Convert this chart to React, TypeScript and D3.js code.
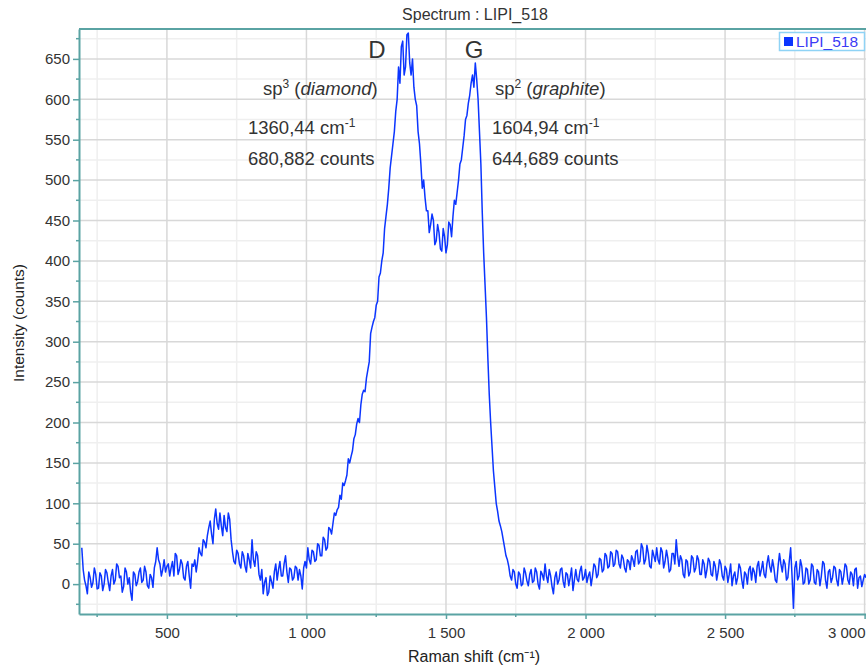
import React from 'react';
import * as d3 from 'd3';

// Raman spectrum LIPI_518, every 5 cm-1 starting at 195 cm-1
const shiftStart = 195;
const shiftStep = 5;
const intensity = [
  45, 18, 5, -2, -12, 15, 8, -4, 2, 20, 12, -6, -5, 14, 10, -8, 0, 18, 14, 2,
  -8, 10, 18, 0, 5, 25, 22, 8, 10, -10, -3, 20, 15, 0, 8, -10, -20, 15, 12, -2,
  3, 15, 20, 2, 5, 22, 15, -2, -5, 12, 8, -4, 20, 28, 45, 30, 25, 10, 18, 30,
  15, 22, 25, 10, 20, 28, 10, 38, 35, 12, 18, 30, 25, 8, 5, 22, 28, 10, -5, 25,
  22, 30, 15, 28, 45, 38, 35, 55, 52, 45, 60, 70, 78, 62, 50, 80, 93, 75, 68, 88,
  72, 60, 85, 70, 65, 88, 80, 55, 40, 28, 25, 42, 38, 25, 20, 40, 35, 22, 15, 38,
  30, 20, 55, 30, 22, 40, 35, 12, 5, 18, -12, 2, 8, -14, -10, 10, 3, -5, 15, 25,
  5, 18, 28, 10, 10, 25, 35, 15, 2, 20, 18, 5, 8, 22, 20, 5, 18, 10, -6, 20,
  28, 20, 45, 30, 25, 42, 40, 28, 30, 50, 48, 35, 35, 58, 55, 42, 45, 70, 68, 62,
  75, 88, 85, 92, 95, 110, 105, 125, 122, 128, 135, 155, 150, 158, 165, 180, 185, 198, 205, 200,
  222, 235, 240, 238, 255, 265, 275, 310, 318, 325, 330, 345, 350, 380, 385, 400, 410, 440, 455, 470,
  490, 515, 530, 545, 560, 585, 600, 640, 620, 665, 672, 630, 640, 680, 682, 645, 630, 650, 615, 600,
  592, 560, 545, 520, 490, 500, 478, 462, 462, 435, 445, 458, 450, 420, 425, 445, 435, 415, 412, 440,
  430, 410, 420, 448, 445, 430, 455, 475, 470, 485, 500, 520, 525, 540, 555, 575, 580, 595, 605, 620,
  630, 615, 645, 625, 600, 560, 520, 460, 410, 370, 330, 280, 235, 200, 170, 140, 120, 100, 90, 78,
  72, 65, 55, 45, 35, 30, 22, 10, 5, 18, 15, 0, -5, 15, 12, -2, 0, 20, 14, 4,
  -2, 12, 18, 2, 4, 20, 15, 0, -6, 16, 12, 5, 25, 10, 2, 18, 10, -3, -12, 8,
  15, 0, 5, 18, 20, 3, -4, 14, 12, -2, 8, 20, -8, 5, 18, 6, 3, 16, 22, 5,
  8, 18, 2, 10, 15, -2, 10, 25, 22, 8, 12, 32, 30, 15, 18, 38, 35, 20, 22, 40,
  38, 22, 25, 42, 40, 25, 20, 36, 32, 20, 15, 30, 28, 18, 35, 30, 22, 40, 42, 25,
  28, 50, 45, 25, 30, 48, 38, 22, 20, 42, 35, 28, 45, 30, 25, 45, 40, 20, 28, 42,
  32, 15, 18, 38, 38, 25, 55, 35, 22, 35, 30, 12, 8, 30, 28, 10, 15, 35, 32, 15,
  20, 35, 30, 12, 12, 30, 25, 8, 18, 32, 28, 12, 10, 28, 22, 5, 15, 30, 25, 10,
  5, 22, 18, 2, 12, 25, -2, 10, 15, 0, 8, 25, 20, 5, -5, 15, 12, 0, 18, 22,
  5, 20, 15, 2, 22, 28, 10, 18, 28, 12, 8, 25, 35, 22, 15, 30, 20, 5, 2, 22,
  38, 25, 15, 30, 25, 5, 8, 28, 45, 10, -30, 20, 28, 5, 10, 30, 22, 0, 2, 20,
  18, 0, 5, 25, 22, 2, 0, 18, 15, -2, 10, 28, 25, 5, -5, 15, 18, 2, 8, 22,
  20, 5, -2, 18, 15, 0, 10, 25, 22, 5, 0, 15, 12, -2, 18, 20, -5, 8, 10, -3,
  5, 12, 8,
];

const xTicks = [500, 1000, 1500, 2000, 2500, 3000];
const xMinorTicks = [250, 750, 1250, 1750, 2250, 2750];
const yTicks = [0, 50, 100, 150, 200, 250, 300, 350, 400, 450, 500, 550, 600, 650];
const yMinorTicks = [-25, 25, 75, 125, 175, 225, 275, 325, 375, 425, 475, 525, 575, 625, 675];

const title = 'Spectrum : LIPI_518';
const seriesName = 'LIPI_518';
const xLabel = 'Raman shift (cm⁻¹)';
const yLabel = 'Intensity (counts)';

const W = 866;
const H = 668;
const margin = { top: 29, right: 0, bottom: 54, left: 79 };
const FONT = '"Liberation Sans", Arial, sans-serif';
const AXIS = '#5aa3a3';
const LINE = '#0b35ff';

const fmt = d3.formatLocale({ decimal: ',', thousands: '\u00a0', grouping: [3], currency: ['', ''] }).format(',d');

const App = () => {
  const svgRef = React.useRef<SVGSVGElement | null>(null);

  React.useEffect(() => {
    const svg = d3.select(svgRef.current);
    svg.selectAll('*').remove();

    const data = intensity.map((v, i) => ({ x: shiftStart + i * shiftStep, y: v }));

    const x = d3.scaleLinear().domain([185, 3005]).range([margin.left, W - margin.right]);
    const y = d3.scaleLinear().domain([-37, 687]).range([H - margin.bottom, margin.top]);

    svg.append('rect').attr('width', W).attr('height', H).attr('fill', '#fff');

    // grid
    const grid = svg.append('g');
    grid.selectAll('.xmin').data(xMinorTicks).enter().append('line')
      .attr('x1', d => x(d)).attr('x2', d => x(d))
      .attr('y1', margin.top).attr('y2', H - margin.bottom)
      .attr('stroke', '#efefef').attr('stroke-width', 1.5);
    grid.selectAll('.ymin').data(yMinorTicks).enter().append('line')
      .attr('x1', margin.left).attr('x2', W - margin.right)
      .attr('y1', d => y(d)).attr('y2', d => y(d))
      .attr('stroke', '#efefef').attr('stroke-width', 1.5);
    grid.selectAll('.xmaj').data(xTicks).enter().append('line')
      .attr('x1', d => x(d)).attr('x2', d => x(d))
      .attr('y1', margin.top).attr('y2', H - margin.bottom)
      .attr('stroke', '#d8d8d8').attr('stroke-width', 1.5);
    grid.selectAll('.ymaj').data(yTicks).enter().append('line')
      .attr('x1', margin.left).attr('x2', W - margin.right)
      .attr('y1', d => y(d)).attr('y2', d => y(d))
      .attr('stroke', '#d8d8d8').attr('stroke-width', 1.5);

    // clip + line
    svg.append('defs').append('clipPath').attr('id', 'plot-clip')
      .append('rect')
      .attr('x', margin.left).attr('y', margin.top)
      .attr('width', W - margin.left - margin.right)
      .attr('height', H - margin.top - margin.bottom);

    const line = d3.line<{ x: number; y: number }>().x(d => x(d.x)).y(d => y(d.y));
    svg.append('path')
      .datum(data)
      .attr('clip-path', 'url(#plot-clip)')
      .attr('d', line)
      .attr('fill', 'none')
      .attr('stroke', LINE)
      .attr('stroke-width', 1.5)
      .attr('stroke-linejoin', 'round');

    // axes
    const xAxis = svg.append('g')
      .attr('transform', `translate(0,${H - margin.bottom})`)
      .call(d3.axisBottom(x).tickValues(xTicks).tickFormat(d => fmt(d as number)).tickSize(5).tickSizeOuter(0));
    xAxis.append('g').selectAll('line').data(xMinorTicks).enter().append('line')
      .attr('x1', d => x(d)).attr('x2', d => x(d)).attr('y1', 0).attr('y2', 3);
    const yAxis = svg.append('g')
      .attr('transform', `translate(${margin.left},0)`)
      .call(d3.axisLeft(y).tickValues(yTicks).tickSize(6).tickSizeOuter(0));
    yAxis.append('g').selectAll('line').data(yMinorTicks).enter().append('line')
      .attr('x1', -3).attr('x2', 0).attr('y1', d => y(d)).attr('y2', d => y(d));

    [xAxis, yAxis].forEach(a => {
      a.selectAll('path.domain').attr('stroke', AXIS).attr('stroke-width', 2);
      a.selectAll('line').attr('stroke', AXIS).attr('stroke-width', 1.5);
      a.selectAll('text').attr('fill', '#333').style('font-family', FONT).style('font-size', '15px');
    });
    xAxis.selectAll('text').attr('y', 24).attr('dy', 0);
    // last label sits against the right edge, as in the original
    xAxis.selectAll<SVGTextElement, number>('.tick text')
      .filter(d => d === 3000)
      .attr('text-anchor', 'end')
      .attr('x', W - 1 - x(3000));
    yAxis.selectAll('text').attr('x', -9);

    // top border
    svg.append('line')
      .attr('x1', margin.left).attr('x2', W - margin.right)
      .attr('y1', margin.top).attr('y2', margin.top)
      .attr('stroke', AXIS).attr('stroke-width', 2);

    // titles
    svg.append('text').attr('x', 475).attr('y', 20).attr('text-anchor', 'middle')
      .style('font-family', FONT).style('font-size', '16px').attr('fill', '#333').text(title);
    svg.append('text').attr('x', 474).attr('y', 662).attr('text-anchor', 'middle')
      .style('font-family', FONT).style('font-size', '16px').attr('fill', '#222').text(xLabel);
    svg.append('text').attr('transform', 'translate(24,323) rotate(-90)').attr('text-anchor', 'middle')
      .style('font-family', FONT).style('font-size', '15.5px').attr('fill', '#222').text(yLabel);

    // legend
    const lg = svg.append('g');
    lg.append('rect').attr('x', 779.5).attr('y', 32.5).attr('width', 85).attr('height', 18)
      .attr('fill', '#fff').attr('stroke', '#8fd3f5').attr('stroke-width', 1.5);
    lg.append('rect').attr('x', 784).attr('y', 37).attr('width', 9).attr('height', 9).attr('fill', LINE);
    lg.append('text').attr('x', 796).attr('y', 47)
      .style('font-family', FONT).style('font-size', '15.5px').attr('fill', '#3b3bf5').text(seriesName);

    // peak annotations
    const ann = svg.append('g').style('font-family', FONT).attr('fill', '#333');
    ann.append('text').attr('x', 377).attr('y', 58).attr('text-anchor', 'middle').style('font-size', '24px').text('D');
    ann.append('text').attr('x', 474).attr('y', 58).attr('text-anchor', 'middle').style('font-size', '24px').text('G');

    const spLine = (x0: number, sup: string, word: string) => {
      const t = ann.append('text').attr('x', x0).attr('y', 95).style('font-size', '18.5px');
      t.append('tspan').text('sp');
      t.append('tspan').attr('dy', -7).style('font-size', '12px').text(sup);
      t.append('tspan').attr('dy', 7).text(' (');
      t.append('tspan').style('font-style', 'italic').text(word);
      t.append('tspan').text(')');
    };
    const cmLine = (x0: number, val: string) => {
      const t = ann.append('text').attr('x', x0).attr('y', 134).style('font-size', '18.5px');
      t.append('tspan').text(`${val} cm`);
      t.append('tspan').attr('dy', -7).style('font-size', '12px').text('-1');
    };
    spLine(263, '3', 'diamond');
    cmLine(248, '1360,44');
    ann.append('text').attr('x', 248).attr('y', 165).style('font-size', '18.5px').text('680,882 counts');
    spLine(495, '2', 'graphite');
    cmLine(492, '1604,94');
    ann.append('text').attr('x', 492).attr('y', 165).style('font-size', '18.5px').text('644,689 counts');
  }, []);

  return (
    <svg
      ref={svgRef}
      width={W}
      height={H}
      style={{ position: 'absolute', left: 0, top: 0, display: 'block' }}
    />
  );
};

export default App;
